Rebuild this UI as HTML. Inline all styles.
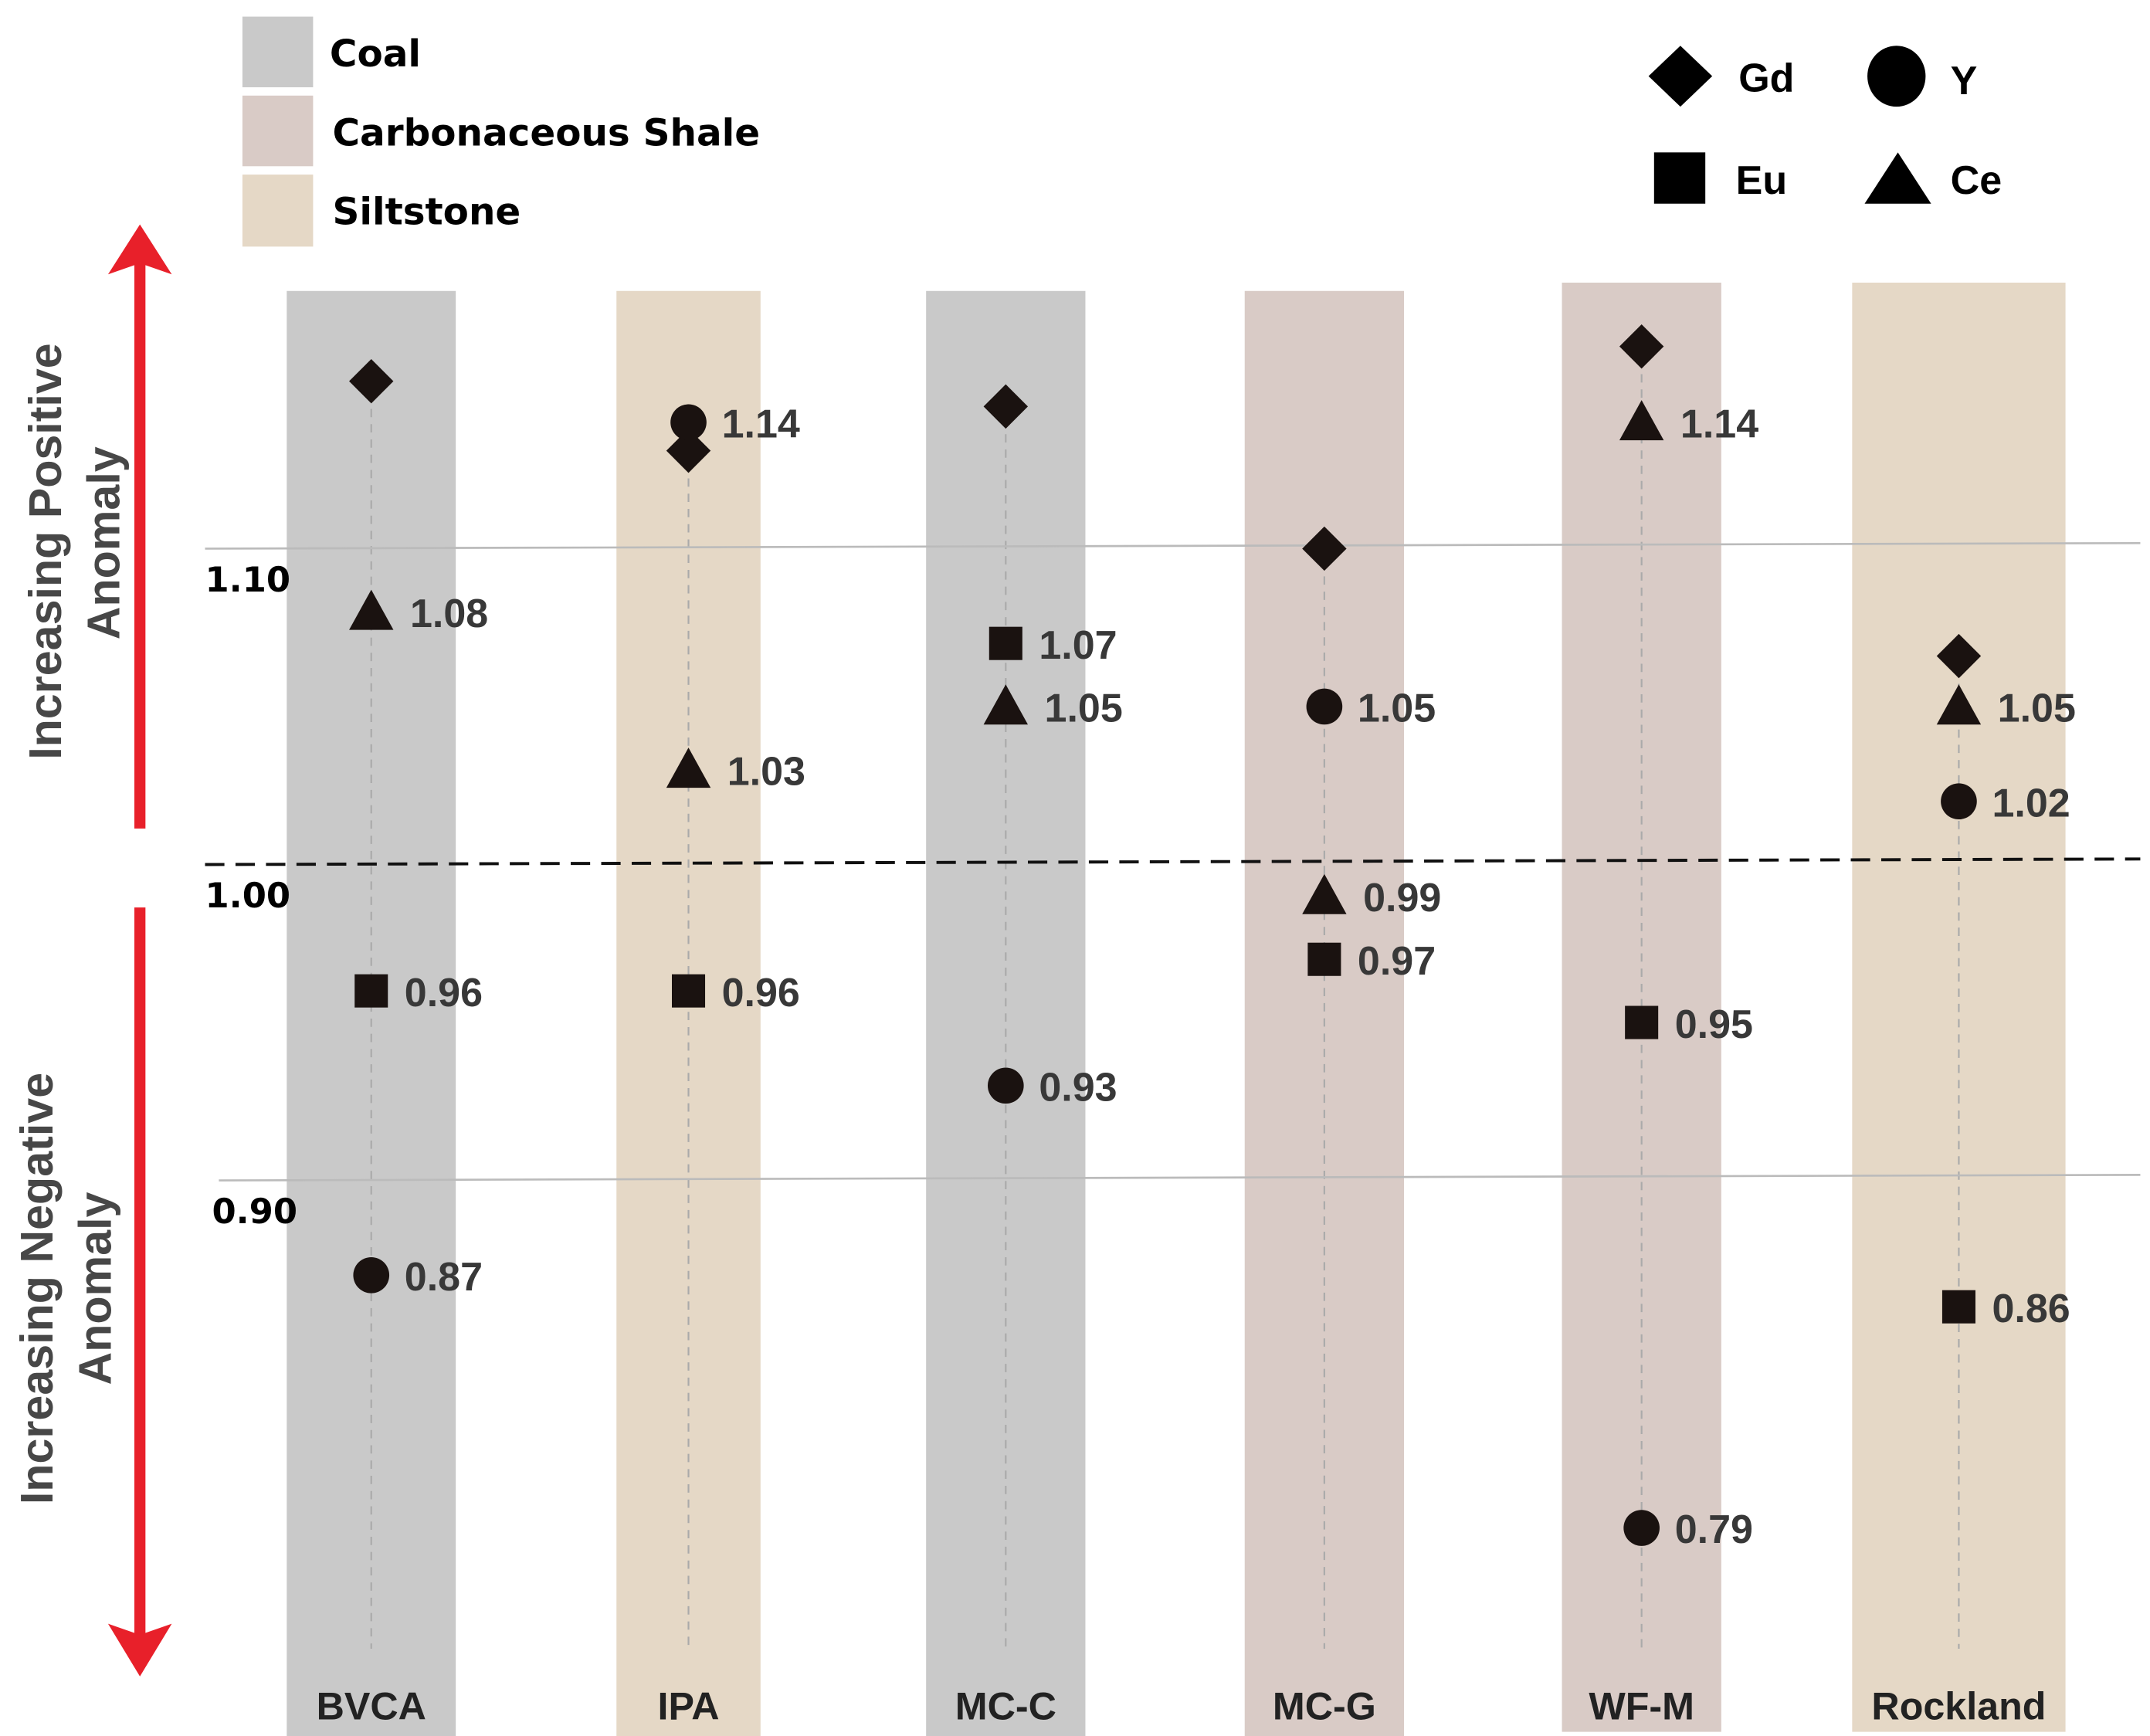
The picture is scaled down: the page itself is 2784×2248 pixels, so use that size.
<!DOCTYPE html>
<html><head><meta charset="utf-8"><style>html,body{margin:0;padding:0;background:#fff}svg{display:block}</style></head>
<body>
<svg id="chart" xmlns="http://www.w3.org/2000/svg" width="2784" height="2248" viewBox="0 0 1552 1253" preserveAspectRatio="none" font-family="Liberation Sans, sans-serif">
<g id="bars"></g>
<g id="grid"></g>
<g id="marks"></g>
<g font-family="DejaVu Sans, sans-serif" font-weight="bold" font-size="27">
 <rect x="175" y="12" width="51" height="51" fill="#c9c9c9"/>
 <text x="238" y="48">Coal</text>
 <rect x="175" y="69" width="51" height="51" fill="#d9cbc6"/>
 <text x="240" y="105">Carbonaceous Shale</text>
 <rect x="175" y="126" width="51" height="52" fill="#e5d8c6"/>
 <text x="240" y="162">Siltstone</text>
</g>
<g font-weight="bold" font-size="29">
 <polygon points="1213,33 1236,55 1213,77 1190,55" fill="#000"/>
 <text x="1255" y="66">Gd</text>
 <ellipse cx="1369" cy="55" rx="21" ry="22" fill="#000"/>
 <text x="1408" y="68">Y</text>
 <rect x="1194" y="110" width="37" height="37" fill="#000"/>
 <text x="1253" y="140">Eu</text>
 <polygon points="1370,110 1394,147 1346,147" fill="#000"/>
 <text x="1408" y="140">Ce</text>
</g>
<g>
 <line x1="101" y1="598" x2="101" y2="190" stroke="#e8202a" stroke-width="8"/>
 <polygon points="101,162 124,198 101,190 78,198" fill="#e8202a"/>
 <line x1="101" y1="655" x2="101" y2="1180" stroke="#e8202a" stroke-width="8"/>
 <polygon points="101,1210 124,1172 101,1180 78,1172" fill="#e8202a"/>
</g>
<g font-size="33" fill="#474747" text-anchor="middle">
 <text font-weight="bold" transform="translate(44,398) rotate(-90)">Increasing Positive</text>
 <text font-weight="bold" transform="translate(86,392) rotate(-90)">Anomaly</text>
 <text font-weight="bold" transform="translate(38,930) rotate(-90)">Increasing Negative</text>
 <text font-weight="bold" transform="translate(80,930) rotate(-90)">Anomaly</text>
</g>
<g id="ticks" font-family="DejaVu Sans, sans-serif" font-weight="bold" font-size="25" fill="#000"></g>
</svg>
<script>
const categories = ['BVCA','IPA','MC-C','MC-G','WF-M','Rockland'];
const rockTypes = ['coal','silt','coal','shale','shale','silt'];
const gd = [1.153, 1.131, 1.145, 1.10, 1.164, 1.066];
const ce = [1.08, 1.03, 1.05, 0.99, 1.14, 1.05];
const eu = [0.96, 0.96, 1.07, 0.97, 0.95, 0.86];
const yv = [0.87, 1.14, 0.93, 1.05, 0.79, 1.02];
const ceLabels = ['1.08','1.03','1.05','0.99','1.14','1.05'];
const euLabels = ['0.96','0.96','1.07','0.97','0.95','0.86'];
const yLabels = ['0.87','1.14','0.93','1.05','0.79','1.02'];
const tickValues = [1.10, 1.00, 0.90];
const tickLabels = ['1.10','1.00','0.90'];

const NS='http://www.w3.org/2000/svg';
const colors={coal:'#c9c9c9',silt:'#e5d8c6',shale:'#d9cbc6'};
const barWidths=[122,104,115,115,115,154];
function xPos(i){return [268,497,726,956,1185,1414][i];}
function yPos(v){return 624-(v-1)*2280;}
function mk(tag,attrs,parent){const e=document.createElementNS(NS,tag);for(const k in attrs)e.setAttribute(k,attrs[k]);parent.appendChild(e);return e;}
const bars=document.getElementById('bars'),grid=document.getElementById('grid'),marks=document.getElementById('marks'),ticks=document.getElementById('ticks');
categories.forEach((c,i)=>{
  const cx=xPos(i),w=barWidths[i];
  const r=mk('rect',{x:cx-w/2,y:i>=4?204:210,width:w,height:1046,fill:colors[rockTypes[i]]},bars);
  
  
  const dl=mk('line',{x1:cx,y1:yPos(gd[i])+20,x2:cx,y2:1190,stroke:'#aaa','stroke-width':1.2,'stroke-dasharray':'6,5'},bars);
  
  
  const t=mk('text',{x:cx,y:1241,'text-anchor':'middle','font-weight':'bold','font-size':28,fill:'#222'},bars);
  t.textContent=c;
  
  
});
tickValues.forEach((v,i)=>{
  const y=yPos(v);
  const l=mk('line',{x1:i==2?158:148,y1:y,x2:1545,y2:y-4,stroke:i==1?'#111':'#bbb','stroke-width':i==1?2.2:1.5,'stroke-dasharray':i==1?'14,8':'none'},grid);
  
  
  const t=mk('text',{x:i==2?153:148,y:y+31},ticks);
  t.textContent=tickLabels[i];
  
  
});
function label(x,y,txt){const t=mk('text',{x:x+24,y:y+11,'font-weight':'900','font-size':29,fill:'#383838'},marks);t.textContent=txt;
  
  }
categories.forEach((c,i)=>{
  const cx=xPos(i),fill='#1a1210';
  let y=yPos(gd[i]);
  const d=mk('polygon',{points:`${cx},${y-16} ${cx+16},${y} ${cx},${y+16} ${cx-16},${y}`,fill},marks);
  
  
  y=yPos(ce[i]);
  const tr=mk('polygon',{points:`${cx},${y-16} ${cx+16},${y+13} ${cx-16},${y+13}`,fill},marks);
  
  
  label(cx+4,y,ceLabels[i]);
  y=yPos(eu[i]);
  const sq=mk('rect',{x:cx-12,y:y-12,width:24,height:24,fill},marks);
  
  
  label(cx,y,euLabels[i]);
  y=yPos(yv[i]);
  const ci=mk('circle',{cx:cx,cy:y,r:13,fill},marks);
  
  
  label(cx,y,yLabels[i]);
});
</script>
</body></html>
